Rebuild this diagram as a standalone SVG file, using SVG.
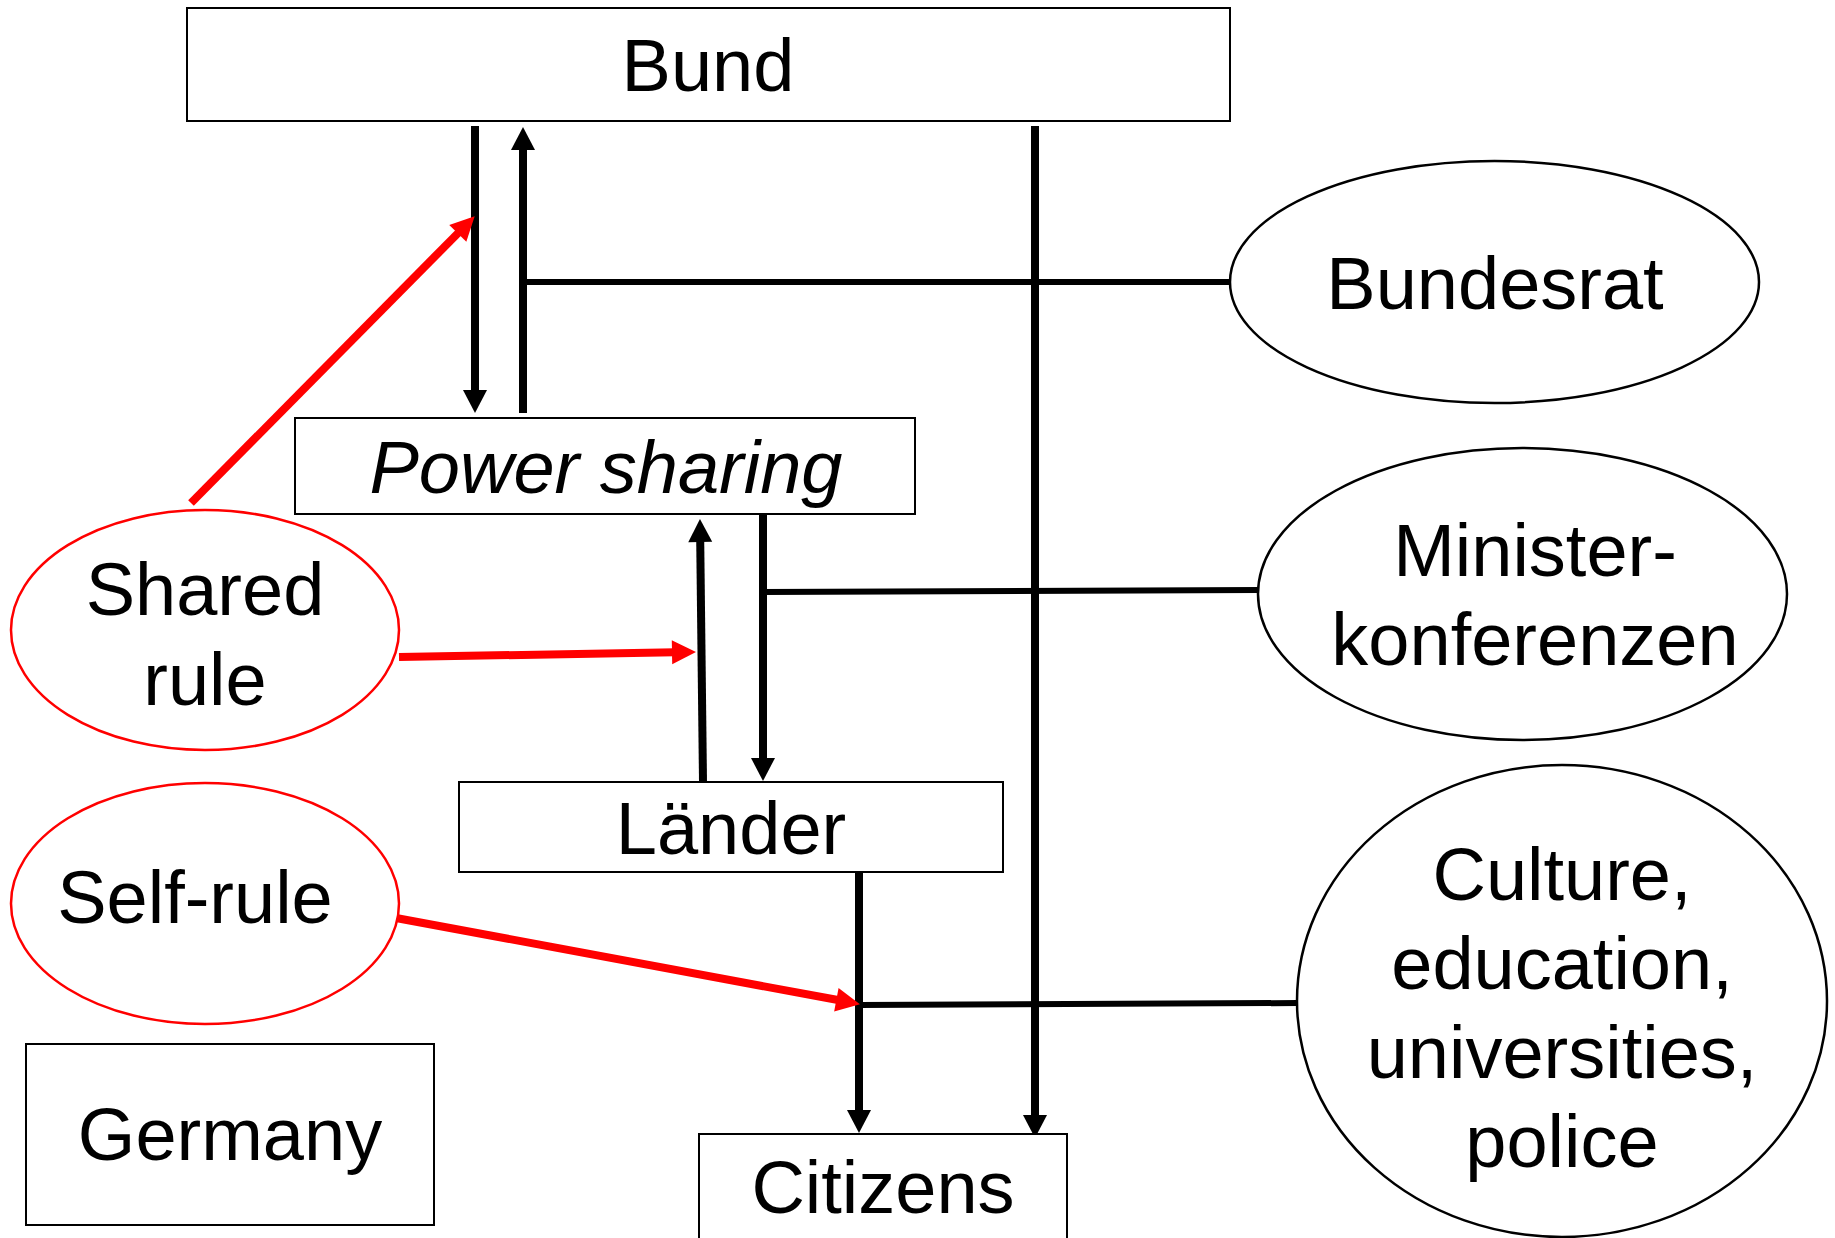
<svg xmlns="http://www.w3.org/2000/svg" width="1835" height="1238" viewBox="0 0 1835 1238">
<defs>
<style>
.box{fill:#fff;stroke:#000;stroke-width:2}
.ell{fill:#fff;stroke:#000;stroke-width:2.5}
.rell{fill:#fff;stroke:#ff0000;stroke-width:2.5}
.t{font-family:"Liberation Sans",Arial,sans-serif;font-size:74px;fill:#000;text-anchor:middle}
.it{font-style:italic}
.arr{stroke:#000;stroke-width:8;fill:none;marker-end:url(#ah)}
.ln{stroke:#000;stroke-width:6;fill:none}
.red{stroke:#ff0000;stroke-width:8;fill:none;marker-end:url(#rh)}
</style>
<marker id="ah" markerUnits="userSpaceOnUse" markerWidth="24" markerHeight="24" refX="3" refY="12" orient="auto" overflow="visible">
<path d="M0,0 L23,12 L0,24 z" fill="#000"/>
</marker>
<marker id="rh" markerUnits="userSpaceOnUse" markerWidth="24" markerHeight="24" refX="3" refY="12" orient="auto" overflow="visible">
<path d="M0,0 L24,12 L0,24 z" fill="#ff0000"/>
</marker>
</defs>
<rect width="1835" height="1238" fill="#fff"/>

<g id="connectors">
<line class="arr" x1="475" y1="126" x2="475" y2="393"/>
<line class="arr" x1="523" y1="413" x2="523" y2="147"/>
<line class="ln" x1="523" y1="282" x2="1231" y2="282"/>
<line class="arr" x1="1035" y1="126" x2="1035" y2="1118"/>
<line class="arr" x1="703" y1="782" x2="700.2" y2="539"/>
<line class="arr" x1="763" y1="514" x2="763" y2="761"/>
<line class="ln" x1="763" y1="592" x2="1259" y2="590"/>
<line class="arr" x1="859" y1="872" x2="859" y2="1113"/>
<line class="ln" x1="859" y1="1005" x2="1298" y2="1003"/>
<line class="red" x1="191" y1="503" x2="459.9" y2="231.2"/>
<line class="red" x1="399" y1="657" x2="675" y2="652.3"/>
<line class="red" x1="396" y1="918" x2="839.3" y2="1000.3"/>
</g>

<g id="bund">
<rect class="box" x="187" y="8" width="1043" height="113"/>
<text class="t" x="708" y="91">Bund</text>
</g>
<g id="power-sharing">
<rect class="box" x="295" y="418" width="620" height="96"/>
<text class="t it" x="606" y="493">Power sharing</text>
</g>
<g id="laender">
<rect class="box" x="459" y="782" width="544" height="90"/>
<text class="t" x="731" y="854">Länder</text>
</g>
<g id="citizens">
<rect class="box" x="699" y="1134" width="368" height="115"/>
<text class="t" x="883" y="1213">Citizens</text>
</g>
<g id="germany">
<rect class="box" x="26" y="1044" width="408" height="181"/>
<text class="t" x="230" y="1160">Germany</text>
</g>
<g id="bundesrat">
<ellipse class="ell" cx="1494.5" cy="282" rx="264.5" ry="121"/>
<text class="t" x="1495" y="309">Bundesrat</text>
</g>
<g id="ministerkonferenzen">
<ellipse class="ell" cx="1522.5" cy="594" rx="264.5" ry="146"/>
<text class="t" x="1535" y="576">Minister-</text>
<text class="t" x="1535" y="665">konferenzen</text>
</g>
<g id="culture">
<ellipse class="ell" cx="1562" cy="1001" rx="265" ry="236"/>
<text class="t" x="1562" y="900">Culture,</text>
<text class="t" x="1562" y="989">education,</text>
<text class="t" x="1562" y="1078">universities,</text>
<text class="t" x="1562" y="1167">police</text>
</g>
<g id="shared-rule">
<ellipse class="rell" cx="205" cy="630" rx="194" ry="120"/>
<text class="t" x="205" y="615">Shared</text>
<text class="t" x="205" y="705">rule</text>
</g>
<g id="self-rule">
<ellipse class="rell" cx="205" cy="903.5" rx="194" ry="120.5"/>
<text class="t" x="195" y="923">Self-rule</text>
</g>
</svg>
